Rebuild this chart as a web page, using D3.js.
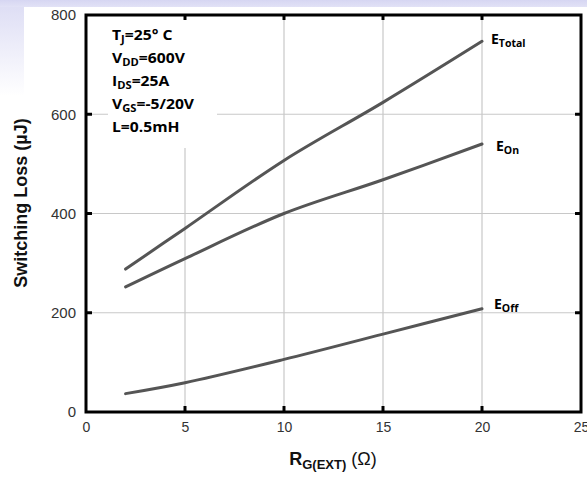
<!DOCTYPE html>
<html>
<head>
<meta charset="utf-8">
<script src="https://cdn.jsdelivr.net/npm/d3@7"></script>
<style>
  html, body { margin: 0; padding: 0; background: #fff; }
  svg { display: block; }
</style>
</head>
<body>
<svg id="chart" width="587" height="479"></svg>
<script>
// Switching loss vs. external gate resistance
const rg = [2, 5, 10, 15, 20];
const eTotal = [288, 370, 507, 624, 747];
const eOn = [252, 309, 400, 468, 540];
const eOff = [37, 59, 106, 157, 208];

const xTicks = [0, 5, 10, 15, 20, 25];
const yTicks = [0, 200, 400, 600, 800];
const gridX = [5, 10, 15, 20];
const gridY = [200, 400, 600];

const conditions = [
  ["T", "J", "=25° C"],
  ["V", "DD", "=600V"],
  ["I", "DS", "=25A"],
  ["V", "GS", "=-5/20V"],
  ["L=0.5mH", "", ""]
];

const series = [
  { name: "E", sub: "Total", values: eTotal, dx: 9, dy: 3 },
  { name: "E", sub: "On", values: eOn, dx: 14, dy: 6.5 },
  { name: "E", sub: "Off", values: eOff, dx: 12, dy: 0 }
];

const svg = d3.select("#chart");
const W = 587, H = 479;

// slide background tint along the top and left edge
const defs = svg.append("defs");
const gTop = defs.append("linearGradient").attr("id", "bgTop").attr("x1", 0).attr("x2", 0).attr("y1", 0).attr("y2", 1);
gTop.append("stop").attr("offset", "0%").attr("stop-color", "#d6d6f2");
gTop.append("stop").attr("offset", "100%").attr("stop-color", "#e2e2f6");
const gLeft = defs.append("linearGradient").attr("id", "bgLeft").attr("x1", 0).attr("x2", 0).attr("y1", 0).attr("y2", 1);
gLeft.append("stop").attr("offset", "0%").attr("stop-color", "#dcdcf4");
gLeft.append("stop").attr("offset", "100%").attr("stop-color", "#ffffff");
svg.append("rect").attr("x", 0).attr("y", 0).attr("width", 24).attr("height", 96).attr("fill", "url(#bgLeft)");
svg.append("rect").attr("x", 0).attr("y", 0).attr("width", W).attr("height", 7).attr("fill", "url(#bgTop)");

const x = d3.scaleLinear().domain([0, 25]).range([86, 581]);
const y = d3.scaleLinear().domain([0, 800]).range([412, 15]);

// gridlines
svg.append("g").selectAll("line").data(gridX).join("line")
  .attr("x1", d => x(d)).attr("x2", d => x(d))
  .attr("y1", y(800)).attr("y2", y(0))
  .attr("stroke", "#c8c8c8").attr("stroke-width", 1.2);
svg.append("g").selectAll("line").data(gridY).join("line")
  .attr("x1", x(0)).attr("x2", x(25))
  .attr("y1", d => y(d)).attr("y2", d => y(d))
  .attr("stroke", "#c8c8c8").attr("stroke-width", 1.2);

// curves
const line = d3.line()
  .x((d, i) => x(rg[i]))
  .y(d => y(d))
  .curve(d3.curveCatmullRom.alpha(0.5));
svg.append("g").selectAll("path").data(series).join("path")
  .attr("d", d => line(d.values))
  .attr("fill", "none")
  .attr("stroke", "#555")
  .attr("stroke-width", 3)
  .attr("stroke-linecap", "round");

// condition box (covers the gridlines behind it)
svg.append("rect")
  .attr("x", 108).attr("y", 17).attr("width", 109).attr("height", 131)
  .attr("fill", "#fff");
const cond = svg.append("g").attr("font-family", "'Open Sans', sans-serif")
  .attr("font-weight", "bold").attr("fill", "#000");
conditions.forEach((c, i) => {
  const t = cond.append("text")
    .attr("transform", `translate(112,${40 + i * 23}) scale(1.12,1)`)
    .attr("font-size", 14);
  t.append("tspan").text(c[0]);
  if (c[1]) t.append("tspan").attr("font-size", 10).attr("dy", 3).text(c[1]);
  if (c[2]) t.append("tspan").attr("dy", c[1] ? -3 : 0).text(c[2]);
});

// series labels
const lab = svg.append("g").attr("font-family", "'Open Sans', sans-serif")
  .attr("font-weight", "bold").attr("fill", "#000");
series.forEach(s => {
  const last = s.values[s.values.length - 1];
  const t = lab.append("text")
    .attr("x", x(rg[rg.length - 1]) + s.dx)
    .attr("y", y(last) + s.dy)
    .attr("font-size", 14);
  t.append("tspan").text(s.name);
  t.append("tspan").attr("font-size", 10.5).attr("dy", 3).text(s.sub);
});

// frame
const frame = svg.append("g");
frame.append("rect")
  .attr("x", x(0)).attr("y", y(800))
  .attr("width", x(25) - x(0)).attr("height", y(0) - y(800))
  .attr("fill", "none").attr("stroke", "#000").attr("stroke-width", 3);

// inward ticks on all four sides
const tl = 6;
frame.append("g").selectAll("line").data(gridY).join("line")
  .attr("x1", x(0)).attr("x2", x(0) + tl).attr("y1", d => y(d)).attr("y2", d => y(d))
  .attr("stroke", "#000").attr("stroke-width", 3);
frame.append("g").selectAll("line").data(gridY).join("line")
  .attr("x1", x(25)).attr("x2", x(25) - tl).attr("y1", d => y(d)).attr("y2", d => y(d))
  .attr("stroke", "#000").attr("stroke-width", 3);
frame.append("g").selectAll("line").data(gridX).join("line")
  .attr("x1", d => x(d)).attr("x2", d => x(d)).attr("y1", y(0)).attr("y2", y(0) - tl)
  .attr("stroke", "#000").attr("stroke-width", 3);
frame.append("g").selectAll("line").data(gridX).join("line")
  .attr("x1", d => x(d)).attr("x2", d => x(d)).attr("y1", y(800)).attr("y2", y(800) + 5)
  .attr("stroke", "#000").attr("stroke-width", 3);

// tick labels via d3 axes
const axFont = "'Liberation Sans', Arial, sans-serif";
const xAxis = svg.append("g").attr("transform", `translate(0,${y(0)})`)
  .call(d3.axisBottom(x).tickValues(xTicks).tickSize(0).tickPadding(10).tickFormat(d3.format("d")));
const yAxis = svg.append("g").attr("transform", `translate(${x(0)},0)`)
  .call(d3.axisLeft(y).tickValues(yTicks).tickSize(0).tickPadding(10).tickFormat(d3.format("d")));
[xAxis, yAxis].forEach(a => {
  a.select(".domain").remove();
  a.selectAll("text").attr("font-family", axFont).attr("font-size", 14).attr("fill", "#333");
});
yAxis.selectAll("text").attr("font-size", 15);

// axis titles
svg.append("text")
  .attr("transform", "translate(27,203) rotate(-90)")
  .attr("text-anchor", "middle")
  .attr("font-family", axFont).attr("font-weight", "bold").attr("font-size", 18)
  .attr("fill", "#111")
  .text("Switching Loss (µJ)");

const xt = svg.append("text")
  .attr("x", 333).attr("y", 465)
  .attr("text-anchor", "middle")
  .attr("font-family", axFont).attr("font-size", 18).attr("fill", "#111");
xt.append("tspan").attr("font-weight", "bold").text("R");
xt.append("tspan").attr("font-weight", "bold").attr("font-size", 13).attr("dy", 4).text("G(EXT)");
xt.append("tspan").attr("dy", -4).text(" (Ω)");
</script>
</body>
</html>
